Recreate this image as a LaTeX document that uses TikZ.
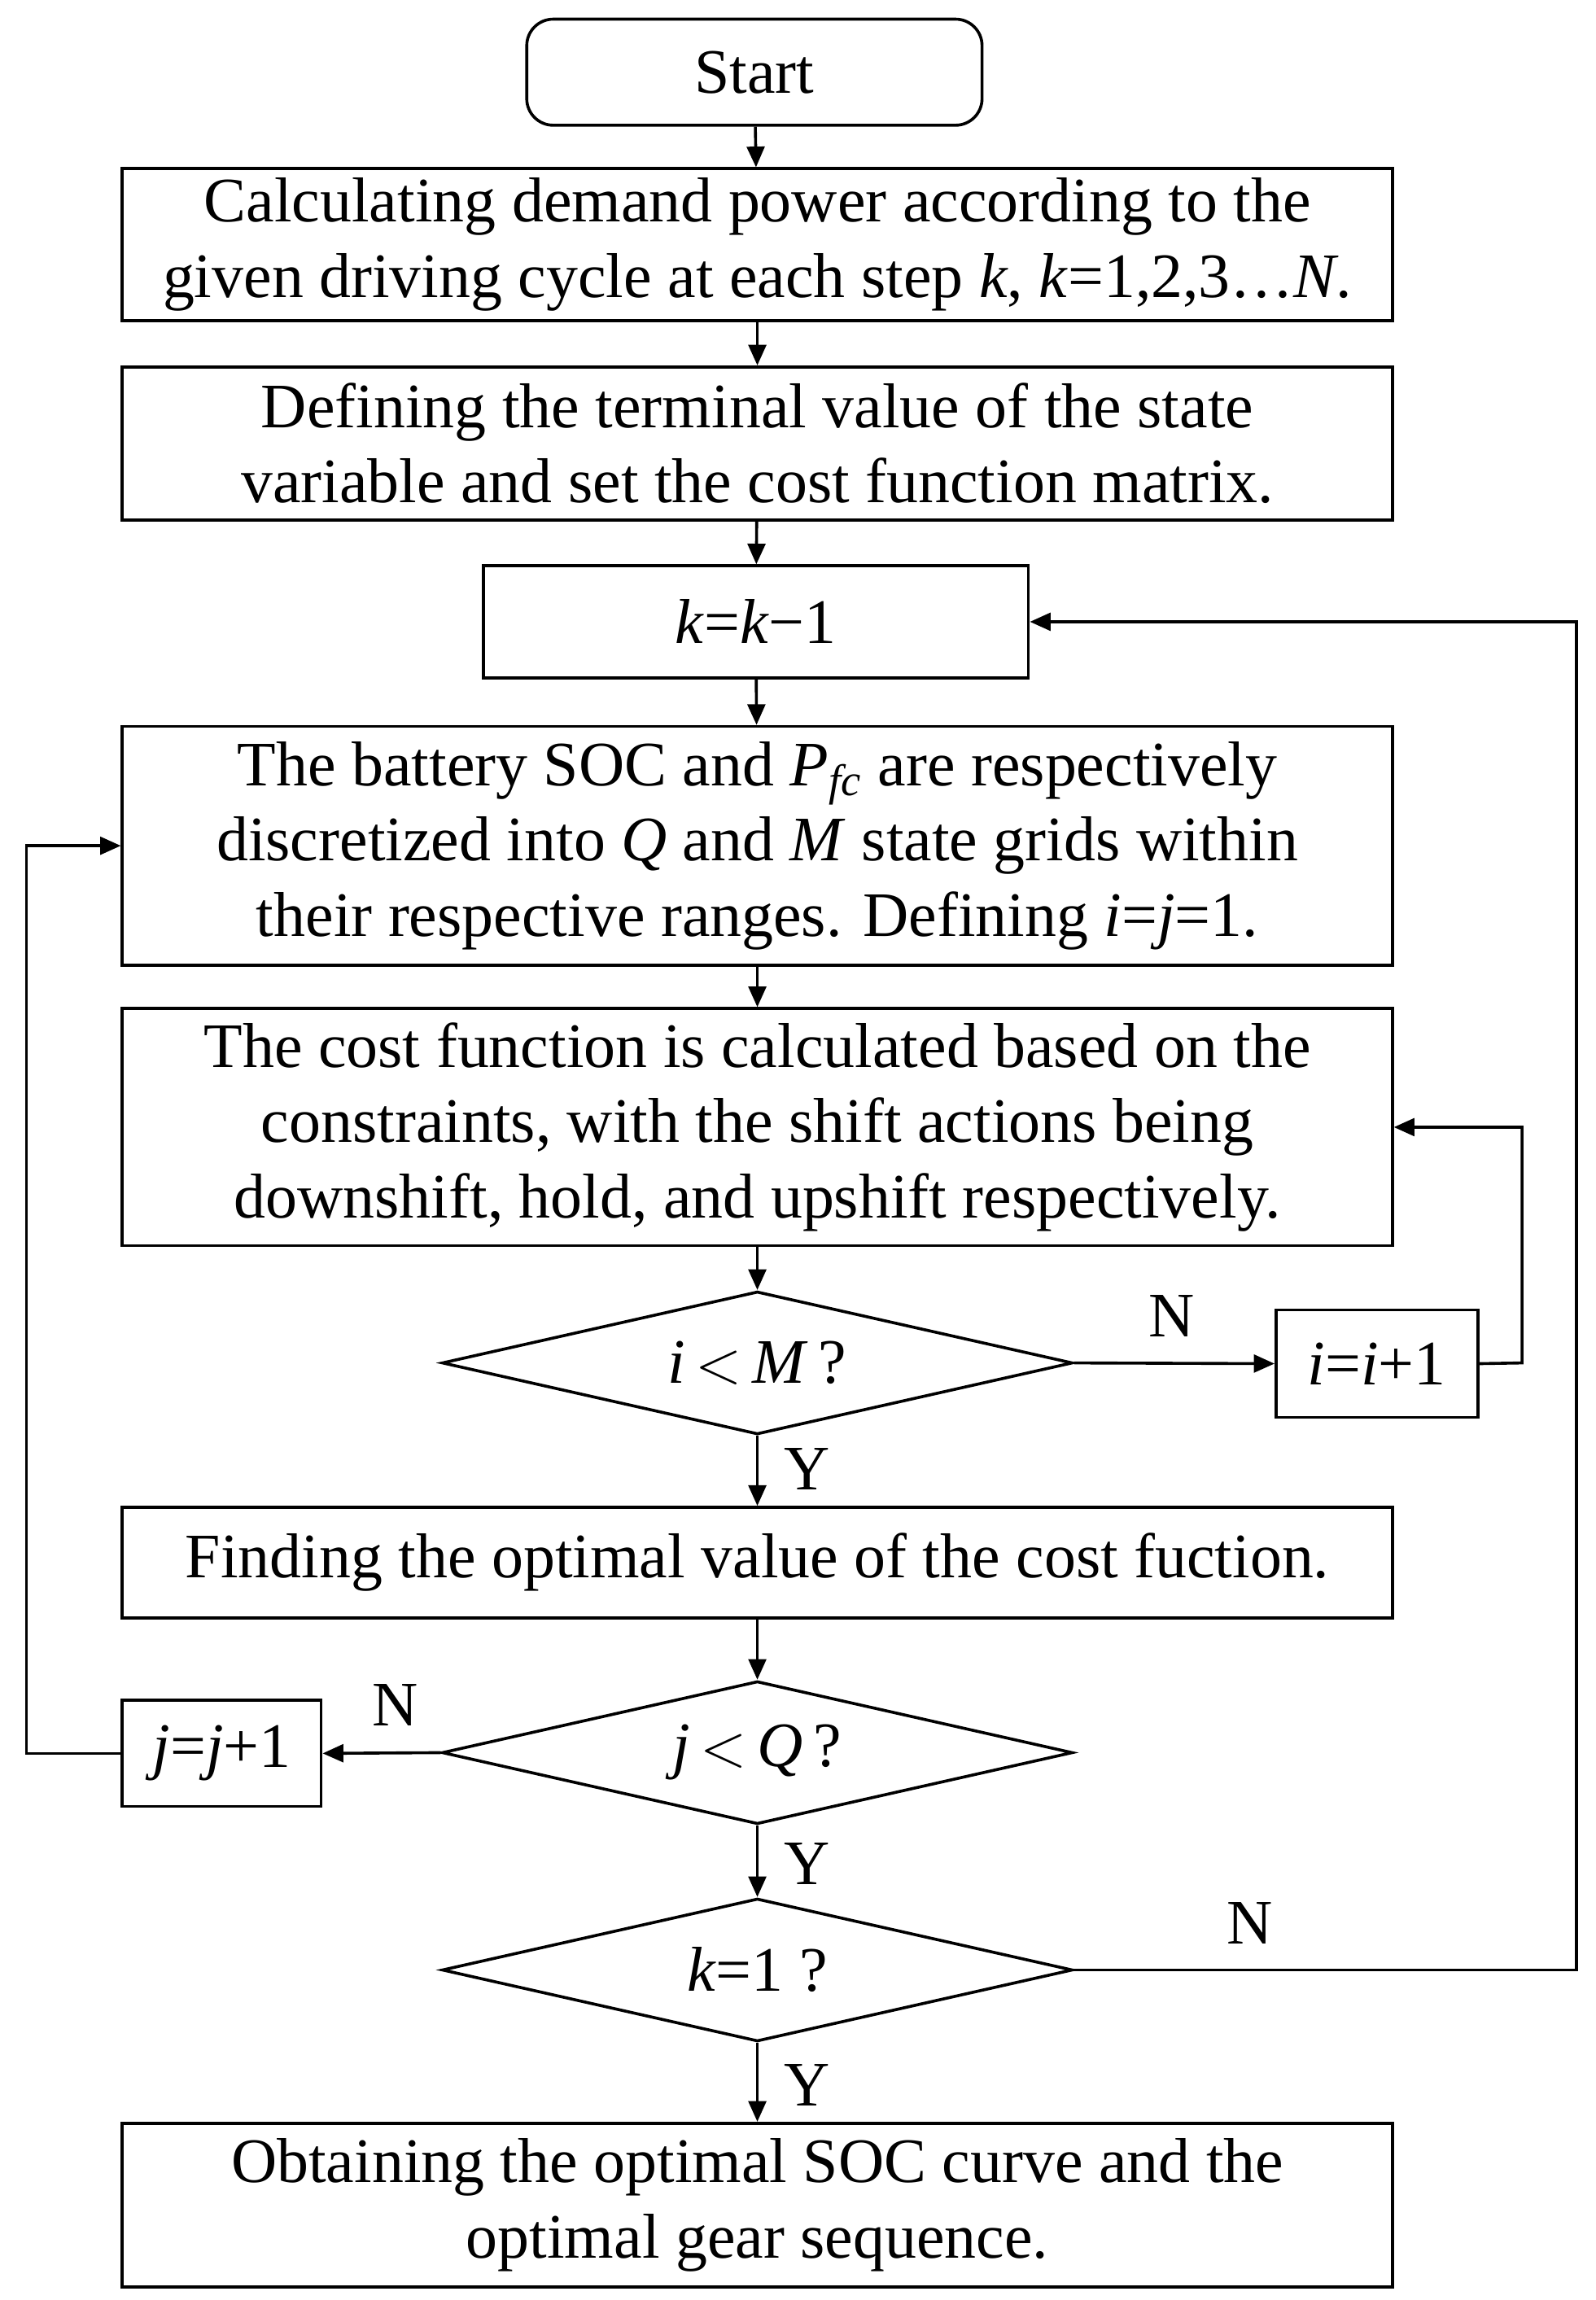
\documentclass[tikz,border=0pt]{standalone}
\usepackage{fontspec}
\setmainfont{Liberation Serif}
\usetikzlibrary{shapes.geometric,arrows.meta}
\begin{document}
\begin{tikzpicture}[x=0.5pt,y=-0.5pt,
  every node/.style={font=\fontsize{21.5}{25.5}\selectfont},
  box/.style={draw,line width=1pt,rectangle,inner sep=0pt,align=center},
  dia/.style={draw,line width=1pt,diamond,inner sep=0pt,minimum width=214pt,minimum height=48.5pt},
  lab/.style={inner sep=0pt},
  ar/.style={line width=1pt,-{Triangle[length=7pt,width=6pt]}}]
\useasboundingbox (0,0) rectangle (1083,1561);
\node[box,rounded corners=9pt,minimum width=154.5pt,minimum height=36pt] (s) at (512,49) {Start};
\node[box,minimum width=431pt,minimum height=51.5pt] (b1) at (514,166) {Calculating demand power according to the\\given driving cycle at each step \textit{k}, \textit{k}=1,2,3…\textit{N}.};
\node[box,minimum width=431pt,minimum height=52pt] (b2) at (514,301) {Defining the terminal value of the state\\variable and set the cost function matrix.};
\node[box,minimum width=185pt,minimum height=38pt] (b3) at (513,422) {\textit{k}=\textit{k}−1};
\node[box,minimum width=431pt,minimum height=81pt] (b4) at (514,574) {The battery SOC and \textit{P\textsubscript{fc}} are respectively\\discretized into \textit{Q} and \textit{M} state grids within\\their respective ranges. Defining \textit{i}=\textit{j}=1.};
\node[box,minimum width=431pt,minimum height=80.5pt] (b5) at (514,765) {The cost function is calculated based on the\\constraints, with the shift actions being\\downshift, hold, and upshift respectively.};
\node[dia,label=center:{\textit{i}$\,<\,$\textit{M}\,?}] (d1) at (514,925) {};
\node[box,minimum width=68.5pt,minimum height=36.5pt] (ii) at (934.5,925.5) {\textit{i}=\textit{i}+1};
\node[box,minimum width=431pt,minimum height=37.5pt] (b6) at (514,1060.5) {Finding the optimal value of the cost fuction.};
\node[dia,label=center:{\textit{j}$\,<\,$\textit{Q}\,?}] (d2) at (514,1189.5) {};
\node[box,minimum width=67.5pt,minimum height=36pt] (jj) at (150.5,1190) {\textit{j}=\textit{j}+1};
\node[dia,label=center:{\textit{k}=1 ?}] (d3) at (514,1337) {};
\node[box,minimum width=431pt,minimum height=55.5pt] (b7) at (514,1496.5) {Obtaining the optimal SOC curve and the\\optimal gear sequence.};
\draw[ar] (s) -- (b1);
\draw[ar] (b1) -- (b2);
\draw[ar] (b2) -- (b3);
\draw[ar] (b3) -- (b4);
\draw[ar] (b4) -- (b5);
\draw[ar] (b5) -- (d1);
\draw[ar] (d1) -- (b6);
\draw[ar] (b6) -- (d2);
\draw[ar] (d2) -- (d3);
\draw[ar] (d3) -- (b7);
\draw[ar] (d1.east) -- (ii.west);
\coordinate (c1) at (1033,925);
\coordinate (c2) at (1033,765);
\draw[ar] (ii.east) -- (c1) -- (c2) -- (b5.east);
\draw[ar] (d2.west) -- (jj.east);
\coordinate (c3) at (18,1190);
\coordinate (c4) at (18,574);
\draw[ar] (jj.west) -- (c3) -- (c4) -- (b4.west);
\coordinate (c5) at (1070,1337);
\coordinate (c6) at (1070,422);
\draw[ar] (d3.east) -- (c5) -- (c6) -- (b3.east);
\node[lab] at (795,893) {N};
\node[lab] at (548,997) {Y};
\node[lab] at (268,1157) {N};
\node[lab] at (548,1265) {Y};
\node[lab] at (848,1305) {N};
\node[lab] at (548,1415) {Y};
\end{tikzpicture}
\end{document}
